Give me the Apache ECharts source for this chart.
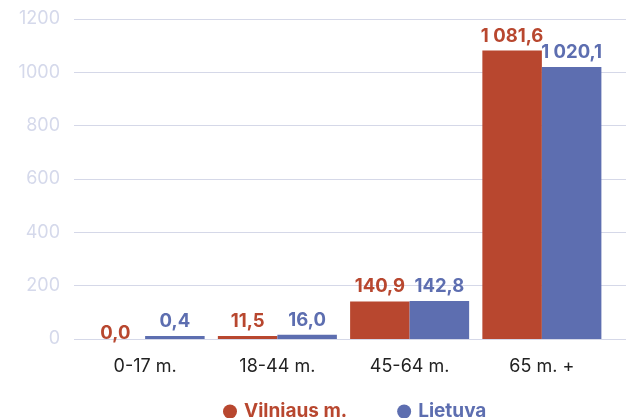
<!DOCTYPE html>
<html><head><meta charset="utf-8">
<script src="https://cdn.jsdelivr.net/npm/echarts@6/dist/echarts.min.js"></script>
<style>html,body{margin:0;padding:0;background:#fff}#c{width:633px;height:418px}</style>
</head><body><div id="c"></div>
<script>
const categories = ['0-17 m.', '18-44 m.', '45-64 m.', '65 m. +'];
const vilnius = [0.0, 11.5, 140.9, 1081.6];
const lietuva = [0.4, 16.0, 142.8, 1020.1];
const seriesNames = ['Vilniaus m.', 'Lietuva'];
const yTicks = [0, 200, 400, 600, 800, 1000, 1200];

const RED = '#b8472f', BLUE = '#5d6eb0';
const FONT = 'Inter';
function fmt(v) {
  const s = v.toFixed(1).split('.');
  const int = s[0].replace(/\B(?=(\d{3})+(?!\d))/g, ' ');
  return int + ',' + s[1];
}
function labelFor(color) {
  return {show: true, position: 'top', distance: 5, color: color, fontSize: 18.5, fontWeight: 'bold', fontFamily: FONT,
          formatter: p => fmt(p.value)};
}
function items(arr) {
  return arr.map(v => v === 0 ? {value: v, label: {distance: -4}} : {value: v});
}
const chart = echarts.init(document.getElementById('c'), null, {renderer: 'canvas'});
chart.setOption({
  animation: false,
  textStyle: {fontFamily: FONT},
  grid: [
    {left: 74, right: 7, top: 19, bottom: 79},
    {left: 79, right: 25, top: 19, bottom: 79}
  ],
  xAxis: [
    {gridIndex: 0, type: 'value', show: false, min: 0, max: 1},
    {gridIndex: 1, type: 'category', data: categories,
     axisLine: {show: false}, axisTick: {show: false},
     axisLabel: {color: '#222', fontSize: 18, margin: 19, fontFamily: FONT}}
  ],
  yAxis: [
    {gridIndex: 0, type: 'value', min: yTicks[0], max: yTicks[yTicks.length - 1], interval: 200,
     axisLine: {show: false}, axisTick: {show: false},
     axisLabel: {color: '#d5d9eb', fontSize: 18, margin: 14, fontFamily: FONT, formatter: v => String(v)},
     splitLine: {lineStyle: {color: '#d5d8e8', width: 1}}},
    {gridIndex: 1, type: 'value', min: 0, max: 1200, show: false, splitLine: {show: false}}
  ],
  legend: {
    left: 218, top: 397, icon: 'circle', itemWidth: 14, itemHeight: 14, itemGap: 50,
    data: seriesNames.map((n, i) => ({name: n, textStyle: {color: i ? BLUE : RED}})),
    textStyle: {fontSize: 19, fontWeight: 'bold', fontFamily: FONT, padding: [0, 0, 0, 2]}
  },
  series: [
    {name: seriesNames[0], type: 'bar', xAxisIndex: 1, yAxisIndex: 1, data: items(vilnius),
     barWidth: '45%', barGap: '0%', barMinHeight: 0, itemStyle: {color: RED}, label: labelFor(RED)},
    {name: seriesNames[1], type: 'bar', xAxisIndex: 1, yAxisIndex: 1, data: items(lietuva),
     barWidth: '45%', barGap: '0%', barMinHeight: 3, itemStyle: {color: BLUE}, label: labelFor(BLUE)}
  ]
});
</script></body></html>
